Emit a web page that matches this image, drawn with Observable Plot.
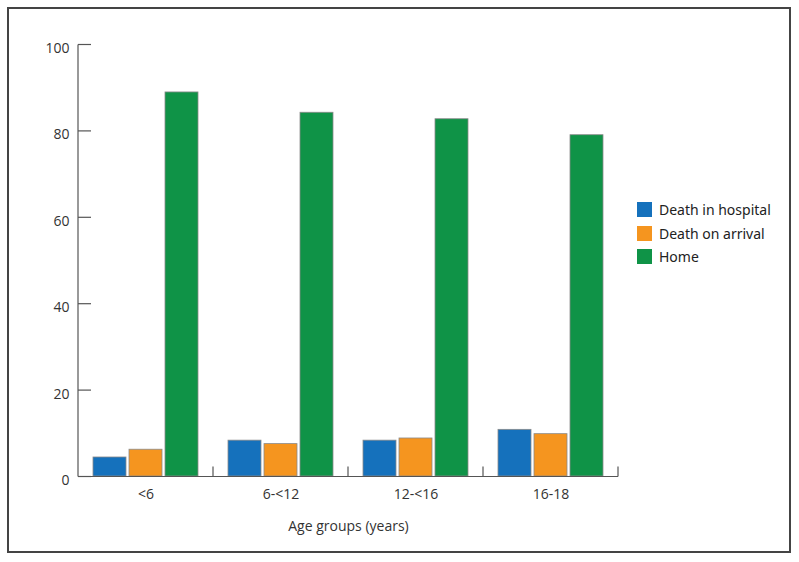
<!DOCTYPE html>
<html>
<head>
<meta charset="utf-8">
<script src="https://cdn.jsdelivr.net/npm/d3@7"></script>
<script src="https://cdn.jsdelivr.net/npm/@observablehq/plot@0.6"></script>
<style>
  html, body { margin: 0; padding: 0; background: #fff; }
  #wrap { position: relative; width: 799px; height: 562px; overflow: hidden; font-family: "Open Sans", sans-serif; }
  #border { position: absolute; left: 7px; top: 7px; width: 784px; height: 546px; border: 2px solid #444; box-sizing: border-box; pointer-events: none; }
  #chart { position: absolute; left: 0; top: 0; }
  #legend { position: absolute; left: 637px; top: 200px; }
  .lg-swatch { padding-bottom: 4.5px !important; font-size: 14px; line-height: 19px; color: #222; }
  .lg-swatch svg { margin-right: 7px !important; }
</style>
</head>
<body>
<div id="wrap">
  <div id="chart"></div>
  <div id="legend"></div>
  <div id="border"></div>
</div>
<script>
const groups = ["<6", "6-<12", "12-<16", "16-18"];
const series = ["Death in hospital", "Death on arrival", "Home"];
const deathInHospital = [4.4, 8.3, 8.3, 10.8];
const deathOnArrival = [6.2, 7.5, 8.8, 9.8];
const home = [88.9, 84.2, 82.7, 79.0];
const seriesColors = ["#1571bc", "#f5951f", "#0f9347"];
const yTicks = [0, 20, 40, 60, 80, 100];
const xTitle = "Age groups (years)";

const seriesValues = [deathInHospital, deathOnArrival, home];
const rows = [];
groups.forEach((g, gi) => series.forEach((s, si) => rows.push({group: g, series: s, value: seriesValues[si][gi]})));

const axisColor = "#555";

const plot = Plot.plot({
  width: 799,
  height: 562,
  marginLeft: 77,
  marginRight: 180,
  marginTop: 44,
  marginBottom: 86,
  style: {fontFamily: "'Open Sans', sans-serif", fontSize: "14px", color: "#333", background: "transparent"},
  fx: {domain: groups, padding: 0},
  x: {domain: series, paddingInner: 0.09, paddingOuter: 0.42, axis: null},
  y: {domain: [0, 100]},
  color: {domain: series, range: seriesColors},
  marks: [
    Plot.barY(rows, {fx: "group", x: "series", y: "value", fill: "series", stroke: "#8a8a8a", strokeWidth: 0.8}),
    Plot.ruleY(groups, {
      fx: d => d, y: d => 0, stroke: axisColor, strokeWidth: 1.2,
      render(index, scales, values, dims, context, next) {
        const g = next(index, scales, values, dims, context);
        const sel = d3.select(g);
        const xR = dims.width - dims.marginRight;
        const xL = dims.marginLeft;
        const y0 = scales.y(0);
        sel.append("line").attr("x1", xR).attr("x2", xR).attr("y1", y0).attr("y2", y0 - 10)
          .attr("stroke", axisColor).attr("stroke-width", 1.2);
        if (index.some(i => groups[i] === groups[0])) {
          sel.append("line").attr("x1", xL).attr("x2", xL).attr("y1", y0).attr("y2", scales.y(yTicks[yTicks.length - 1]))
            .attr("stroke", axisColor).attr("stroke-width", 1.2);
        }
        return g;
      }
    }),
    Plot.axisY({ticks: yTicks, tickSize: -13, tickFormat: () => "", color: axisColor, strokeWidth: 1.2, label: null}),
    Plot.axisY({ticks: yTicks, tickSize: 0, tickPadding: 9, dy: 4, fill: "#333", label: null}),
    Plot.axisFx({anchor: "bottom", tickSize: 0, tickPadding: 13, fill: "#333", label: xTitle, labelAnchor: "center", labelOffset: 54})
  ]
});
document.getElementById("chart").appendChild(plot);
const leg = plot.legend("color", {legend: "swatches", columns: 1, swatchWidth: 15, swatchHeight: 15, className: "lg"});
document.getElementById("legend").appendChild(leg);
</script>
</body>
</html>
